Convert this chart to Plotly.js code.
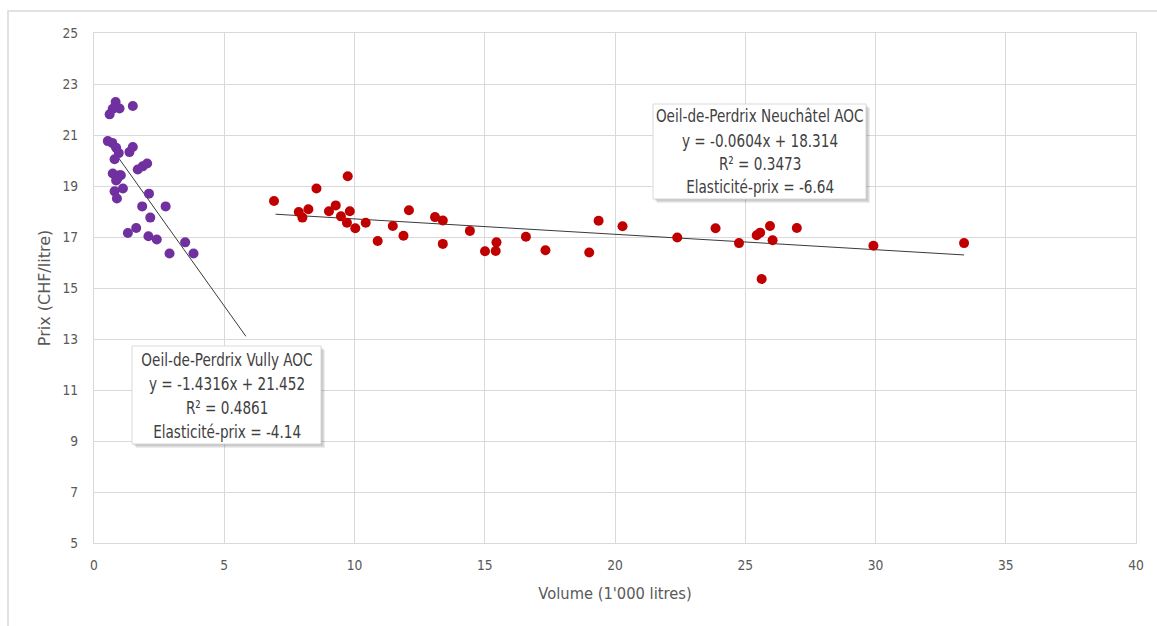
<!DOCTYPE html>
<html>
<head>
<meta charset="utf-8">
<script src="https://cdn.plot.ly/plotly-3.0.1.min.js"></script>
<style>html,body{margin:0;padding:0;background:#fff;}#chart{width:1157px;height:626px;}</style>
</head>
<body>
<div id="chart"></div>
<script>
// Oeil-de-Perdrix Vully AOC (purple)
const vullyVolume = [0.83,0.72,0.98,0.60,1.49,0.53,0.70,0.85,0.95,0.79,1.36,1.49,1.03,1.68,1.87,2.04,0.72,0.98,0.85,0.79,1.11,0.88,0.90,2.11,1.85,2.75,2.16,1.30,1.62,2.09,2.41,3.50,2.90,3.82];
const vullyPrice  = [22.29,22.03,22.04,21.81,22.14,20.76,20.69,20.50,20.29,20.05,20.33,20.53,19.42,19.65,19.77,19.88,19.49,19.42,19.22,18.79,18.90,18.51,19.30,18.70,18.20,18.20,17.76,17.16,17.35,17.03,16.90,16.79,16.35,16.35];
// Oeil-de-Perdrix Neuchâtel AOC (red)
const neuchVolume = [6.91,8.54,9.74,7.86,8.00,8.23,9.02,9.28,9.48,9.71,9.82,10.03,10.43,10.89,11.47,11.88,12.09,13.09,13.39,13.39,14.43,15.01,15.42,15.45,16.58,17.33,19.01,19.37,20.29,22.39,23.86,24.76,25.44,25.57,25.95,26.05,25.63,26.98,29.92,33.40];
const neuchPrice  = [18.41,18.90,19.38,17.98,17.76,18.09,18.01,18.24,17.81,17.56,18.01,17.34,17.56,16.84,17.43,17.05,18.05,17.78,17.65,16.73,17.24,16.44,16.45,16.79,17.01,16.48,16.39,17.64,17.42,16.98,17.34,16.76,17.07,17.17,17.43,16.87,15.35,17.35,16.66,16.76];
// Trendlines (from displayed equations)
const vullySlope = -1.4316, vullyIntercept = 21.452, vullyXRange = [0.55, 5.83];
const neuchSlope = -0.0604, neuchIntercept = 18.314, neuchXRange = [6.97, 33.4];
const vullyLabel = ["Oeil-de-Perdrix Vully AOC","y = -1.4316x + 21.452","R² = 0.4861","Elasticité-prix = -4.14"];
const neuchLabel = ["Oeil-de-Perdrix Neuchâtel AOC","y = -0.0604x + 18.314","R² = 0.3473","Elasticité-prix = -6.64"];
const xTicks = [0,5,10,15,20,25,30,35,40];
const yTicks = [5,7,9,11,13,15,17,19,21,23,25];

const FONT = '"DejaVu Sans",sans-serif';
const CFONT = '"DejaVu Sans Condensed","DejaVu Sans",sans-serif';
const W = 1157, H = 626, L = 94, R = 21, T = 33, B = 83;
const pw = W - L - R, ph = H - T - B;
const PX = p => (p - L) / pw;
const PY = p => (H - B - p) / ph;

const traces = [
  {x: vullyXRange, y: vullyXRange.map(v => vullySlope*v + vullyIntercept), mode:'lines', line:{color:'#3a3a3a', width:1}, hoverinfo:'skip'},
  {x: neuchXRange, y: neuchXRange.map(v => neuchSlope*v + neuchIntercept), mode:'lines', line:{color:'#3a3a3a', width:1}, hoverinfo:'skip'},
  {x: vullyVolume, y: vullyPrice, mode:'markers', type:'scatter', marker:{color:'#7030A0', size:10}},
  {x: neuchVolume, y: neuchPrice, mode:'markers', type:'scatter', marker:{color:'#C00000', size:10}}
];

function box(x0,y0,x1,y1){
  const s = [];
  for (let i=4;i>=1;i--) {
    s.push({type:'rect', xref:'paper', yref:'paper', layer:'above',
      x0:PX(x0+i), x1:PX(x1+i), y0:PY(y0+i), y1:PY(y1+i),
      line:{width:0}, fillcolor:'rgba(0,0,0,0.07)'});
  }
  s.push({type:'rect', xref:'paper', yref:'paper', layer:'above',
    x0:PX(x0), x1:PX(x1), y0:PY(y0), y1:PY(y1),
    line:{color:'#d9d9d9', width:1}, fillcolor:'#ffffff'});
  return s;
}
function lines(lbls, cx, ys){
  return lbls.map((t,i) => ({text:t, xref:'paper', yref:'paper', x:PX(cx), y:PY(ys[i]),
    xanchor:'center', yanchor:'middle', showarrow:false,
    font:{family:CFONT, size:18, color:'#404040'}}));
}

const shapes = [
  {type:'rect', xref:'paper', yref:'paper', layer:'below',
   x0:PX(8), x1:PX(1165), y0:PY(11), y1:PY(640), line:{color:'#d9d9d9', width:1.5}, fillcolor:'rgba(0,0,0,0)'},
  ...box(653,104,866,199),
  ...box(132,346,321,444)
];
const annotations = [
  ...lines(neuchLabel, 759.5, [116,140,163,186]),
  ...lines(vullyLabel, 226.5, [359,383,407,431])
];

const axisCommon = {
  showgrid:true, gridcolor:'#d9d9d9', gridwidth:1,
  showline:true, linecolor:'#d9d9d9', linewidth:1, mirror:true,
  zeroline:false, ticks:'', tickfont:{family:FONT, size:14, color:'#595959'}
};
const layout = {
  width:W, height:H, margin:{l:L, r:R, t:T, b:B},
  paper_bgcolor:'#ffffff', plot_bgcolor:'#ffffff', showlegend:false,
  xaxis: Object.assign({}, axisCommon, {range:[0,40], tickvals:xTicks, ticktext:xTicks.map(String), ticklabelstandoff:9,
    title:{text:"Volume (1'000 litres)", font:{family:FONT, size:16, color:'#595959'}, standoff:16}}),
  yaxis: Object.assign({}, axisCommon, {range:[5,25], tickvals:yTicks, ticktext:yTicks.map(String), ticklabelstandoff:12,
    title:{text:"Prix (CHF/litre)", font:{family:FONT, size:16, color:'#595959'}, standoff:5}}),
  shapes, annotations
};

// emulate the condensed typeface of the original by narrowing glyphs horizontally
function condense(sel, s, anchorMode){
  document.querySelectorAll(sel).forEach(t => {
    const b = t.getBBox();
    let c = b.x + b.width/2;
    if (anchorMode === 'end') c = b.x + b.width;
    const prev = t.getAttribute('transform') || '';
    t.setAttribute('transform', prev + ' translate(' + c + ',0) scale(' + s + ',1) translate(' + (-c) + ',0)');
  });
}
Plotly.newPlot('chart', traces, layout, {displayModeBar:false, staticPlot:true}).then(() => {
  condense('#chart .annotation-text', 0.84, 'mid');
  condense('#chart .xtick text', 0.88, 'mid');
  condense('#chart .ytick text', 0.88, 'end');
  condense('#chart .g-xtitle text', 0.92, 'mid');
});
</script>
</body>
</html>
